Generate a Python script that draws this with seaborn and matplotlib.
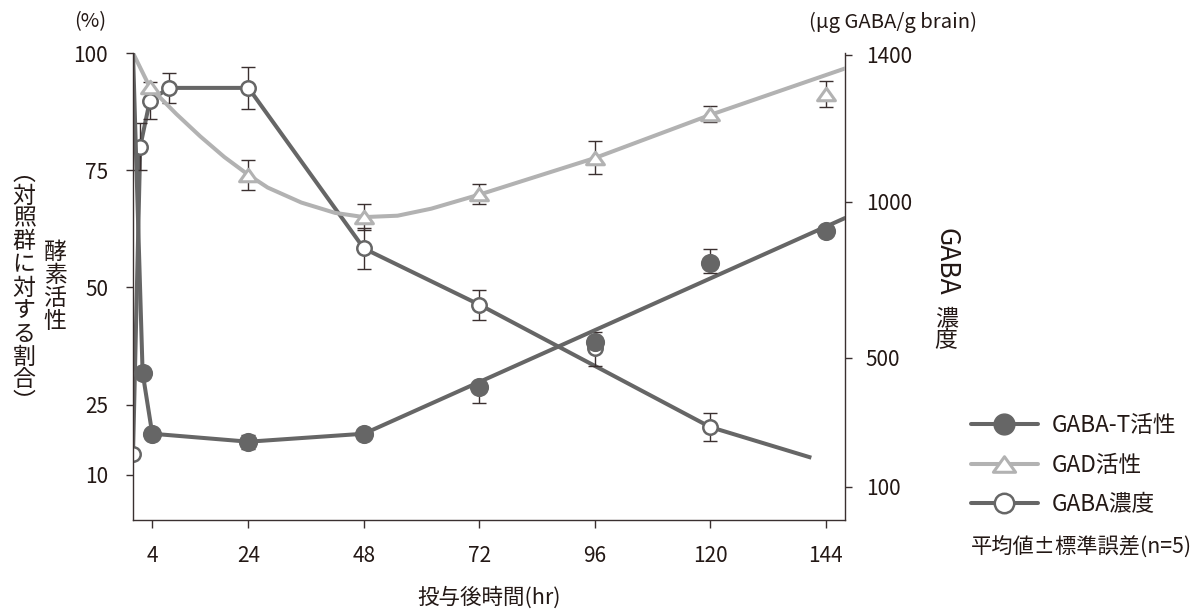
import numpy as np
import matplotlib
matplotlib.use("Agg")
import matplotlib.pyplot as plt
import seaborn as sns
from matplotlib.lines import Line2D
from matplotlib.path import Path

sns.set_theme(style="white")
plt.rcParams["font.family"] = ["Noto Sans CJK JP", "DejaVu Sans"]

INK = "#231815"
SPINE = "#3a3030"
DARK = "#666666"
LIGHT = "#b2b2b2"
BAR = "#3b3030"

# ---- data -----------------------------------------------------------------
# GABA-T activity, % of control (left axis)
gabat_hr = [2, 4, 24, 48, 72, 96, 120, 144]
gabat_pct = [31.8, 18.8, 17.1, 18.8, 28.8, 38.4, 55.2, 62.1]
gabat_err_lo = [0, 0, 1.5, 0, 3.4, 0, 2.1, 0]
gabat_err_hi = [0, 0, 1.5, 0, 0, 0, 3.0, 0]
gabat_line_hr = [0, 2, 4, 24, 48, 148]
gabat_line_pct = [100, 31.8, 18.8, 17.1, 18.8, 64.8]

# GAD activity, % of control (left axis)
gad_hr = [3.5, 24, 48, 72, 96, 120, 144]
gad_pct = [92.7, 74.0, 65.0, 70.0, 77.7, 87.0, 91.2]
gad_err = [0, 3.2, 2.7, 2.1, 3.6, 1.7, 2.8]
gad_curve_hr = [0, 3.5, 9, 14, 19, 24, 28, 35, 42, 48, 55, 62, 72, 96, 120, 148]
gad_curve_pct = [100, 92.7, 87.0, 82.2, 77.8, 74.0, 71.3, 68.1, 65.9, 65.0,
                 65.3, 66.8, 69.8, 77.6, 86.8, 96.7]

# GABA concentration, ug GABA / g brain (right axis)
gaba_hr = [0, 1.5, 3.5, 7.5, 24, 48, 72, 96, 120]
gaba_ug = [200, 1150, 1275, 1310, 1310, 850, 670, 530, 285]
gaba_err = [0, 65, 50, 40, 57, 65, 48, 54, 44]
gaba_line_hr = [0, 1.5, 3.5, 7.5, 24, 48, 72, 120, 141]
gaba_line_ug = [200, 1150, 1275, 1310, 1310, 850, 670, 285, 190]

x_ticks = [4, 24, 48, 72, 96, 120, 144]
left_ticks = [10, 25, 50, 75, 100]
right_ticks = [100, 500, 1000, 1400]

series_labels = ["GABA-T活性", "GAD活性", "GABA濃度"]

# ---- right-axis scale (piecewise linear against the % axis) ----------------
ug_knots = np.array([100.0, 500.0, 1000.0, 1400.0])
pos_knots = np.array([7.5, 35.0, 68.3, 99.6])


def _piecewise(v, xs, ys):
    v = np.asarray(v, dtype=float)
    out = np.interp(v, xs, ys)
    lo = (ys[1] - ys[0]) / (xs[1] - xs[0])
    hi = (ys[-1] - ys[-2]) / (xs[-1] - xs[-2])
    out = np.where(v < xs[0], ys[0] + (v - xs[0]) * lo, out)
    out = np.where(v > xs[-1], ys[-1] + (v - xs[-1]) * hi, out)
    return out


def ug_to_pos(v):
    return _piecewise(v, ug_knots, pos_knots)


def pos_to_ug(v):
    return _piecewise(v, pos_knots, ug_knots)


# flattened open triangle marker
tri = Path([(0, 0.70), (-1, -0.70), (1, -0.70), (0, 0.70)],
           [Path.MOVETO, Path.LINETO, Path.LINETO, Path.CLOSEPOLY])

# ---- figure ---------------------------------------------------------------
W, H = 1194, 609
fig = plt.figure(figsize=(W / 100, H / 100), dpi=100)
ax = fig.add_axes([133 / W, 1 - 520 / H, 712 / W, 467 / H])
ax2 = ax.twinx()
ax.set_zorder(ax2.get_zorder() + 1)
ax.patch.set_visible(False)

Y_LO, Y_HI = 0.4, 100
ax.set_xlim(0, 148)
ax.set_ylim(Y_LO, Y_HI)
ax2.set_yscale("function", functions=(ug_to_pos, pos_to_ug))
ax2.set_ylim(float(pos_to_ug(Y_LO)), float(pos_to_ug(Y_HI)))

# GABA concentration (right axis, drawn beneath the enzyme series)
sns.lineplot(x=gaba_line_hr, y=gaba_line_ug, ax=ax2, color=DARK, lw=2.9,
             sort=False, estimator=None, solid_capstyle="butt", zorder=2)
gi = [i for i, e in enumerate(gaba_err) if e > 0]
ax2.errorbar([gaba_hr[i] for i in gi], [gaba_ug[i] for i in gi],
             yerr=[gaba_err[i] for i in gi], fmt="none", ecolor=BAR,
             elinewidth=1.0, capsize=5.3, capthick=1.0, zorder=3)
sns.scatterplot(x=gaba_hr, y=gaba_ug, ax=ax2, marker="o", s=108,
                color="white", edgecolor=DARK, linewidth=1.8, zorder=4)

# GAD activity
sns.lineplot(x=gad_curve_hr, y=gad_curve_pct, ax=ax, color=LIGHT, lw=2.9,
             sort=False, estimator=None, zorder=1)
di = [i for i, e in enumerate(gad_err) if e > 0]
ax.errorbar([gad_hr[i] for i in di], [gad_pct[i] for i in di],
            yerr=[gad_err[i] for i in di], fmt="none", ecolor=BAR,
            elinewidth=1.0, capsize=5.3, capthick=1.0, zorder=3)
sns.scatterplot(x=gad_hr, y=gad_pct, ax=ax, marker=tri, s=165,
                color="white", edgecolor=LIGHT, linewidth=2.2, zorder=4)

# GABA-T activity
sns.lineplot(x=gabat_line_hr, y=gabat_line_pct, ax=ax, color=DARK, lw=2.9,
             sort=False, estimator=None, zorder=2)
ti = [i for i in range(len(gabat_hr)) if gabat_err_lo[i] > 0 or gabat_err_hi[i] > 0]
ax.errorbar([gabat_hr[i] for i in ti], [gabat_pct[i] for i in ti],
            yerr=[[gabat_err_lo[i] for i in ti], [gabat_err_hi[i] for i in ti]],
            fmt="none", ecolor=BAR, elinewidth=1.0, capsize=5.3, capthick=1.0,
            zorder=3)
sns.scatterplot(x=gabat_hr, y=gabat_pct, ax=ax, marker="o", s=190,
                color=DARK, edgecolor=DARK, linewidth=0, zorder=5)

# ---- axes styling ---------------------------------------------------------
for a in (ax, ax2):
    a.grid(False)
    for s in a.spines.values():
        s.set_color(SPINE)
        s.set_linewidth(1.0)
ax.spines["top"].set_visible(False)
ax.spines["right"].set_visible(False)
ax2.spines["top"].set_visible(False)
ax2.spines["left"].set_visible(False)
ax2.spines["bottom"].set_visible(False)

ax.set_xticks(x_ticks)
ax.set_xticklabels([str(t) for t in x_ticks])
ax.set_yticks(left_ticks)
ax.set_yticklabels([str(t) for t in left_ticks])
ax2.set_yticks(right_ticks)
ax2.set_yticklabels([str(t) for t in right_ticks])
ax2.yaxis.set_minor_locator(matplotlib.ticker.NullLocator())

ax.tick_params(axis="x", bottom=True, direction="out", length=6, width=1.0,
               color=SPINE, labelsize=15, labelcolor=INK, pad=12)
ax.tick_params(axis="y", left=True, direction="out", length=5, width=1.0,
               color=SPINE, labelsize=15, labelcolor=INK, pad=13)
ax2.tick_params(axis="y", right=True, direction="out", length=5, width=1.0,
                color=SPINE, labelsize=15, labelcolor=INK, pad=10)
ax.set_xlabel("投与後時間(hr)", fontsize=15.5, color=INK, labelpad=14)
ax.set_ylabel("")
ax2.set_ylabel("")


def ftext(x, y, s, **kw):
    kw.setdefault("color", INK)
    fig.text(x / W, 1 - y / H, s, **kw)


ftext(90, 22, "(%)", fontsize=14.5, ha="center", va="center")
ftext(893, 22, "(μg GABA/g brain)", fontsize=14.6, ha="center", va="center")
ftext(24, 288, "\n".join("︵対照群に対する割合︶"), fontsize=16.5,
      ha="center", va="center", linespacing=1.0)
ftext(55, 287, "\n".join("酵素活性"), fontsize=16.5, ha="center", va="center",
      linespacing=1.0)
ftext(946, 262, "GABA", fontsize=19, rotation=270, ha="center", va="center")
ftext(946, 330, "濃\n度", fontsize=16.5, ha="center", va="center",
      linespacing=0.95)
ftext(971, 548, "平均値±標準誤差(n=5)", fontsize=15.3, ha="left", va="center")

# ---- legend ---------------------------------------------------------------
handles = [
    Line2D([], [], color=DARK, lw=2.9, marker="o", markersize=15,
           markerfacecolor=DARK, markeredgecolor=DARK),
    Line2D([], [], color=LIGHT, lw=2.9, marker=tri, markersize=16,
           markerfacecolor="white", markeredgecolor=LIGHT, markeredgewidth=2.2),
    Line2D([], [], color=DARK, lw=2.9, marker="o", markersize=14,
           markerfacecolor="white", markeredgecolor=DARK, markeredgewidth=1.8),
]
fig.legend(handles, series_labels, loc="upper left",
           bbox_to_anchor=(971 / W, 1 - 414 / H), frameon=False,
           fontsize=16.3, handlelength=2.95, handletextpad=0.62,
           labelspacing=0.73, borderpad=0, borderaxespad=0,
           labelcolor=INK)

fig.savefig("out.png", dpi=100)
